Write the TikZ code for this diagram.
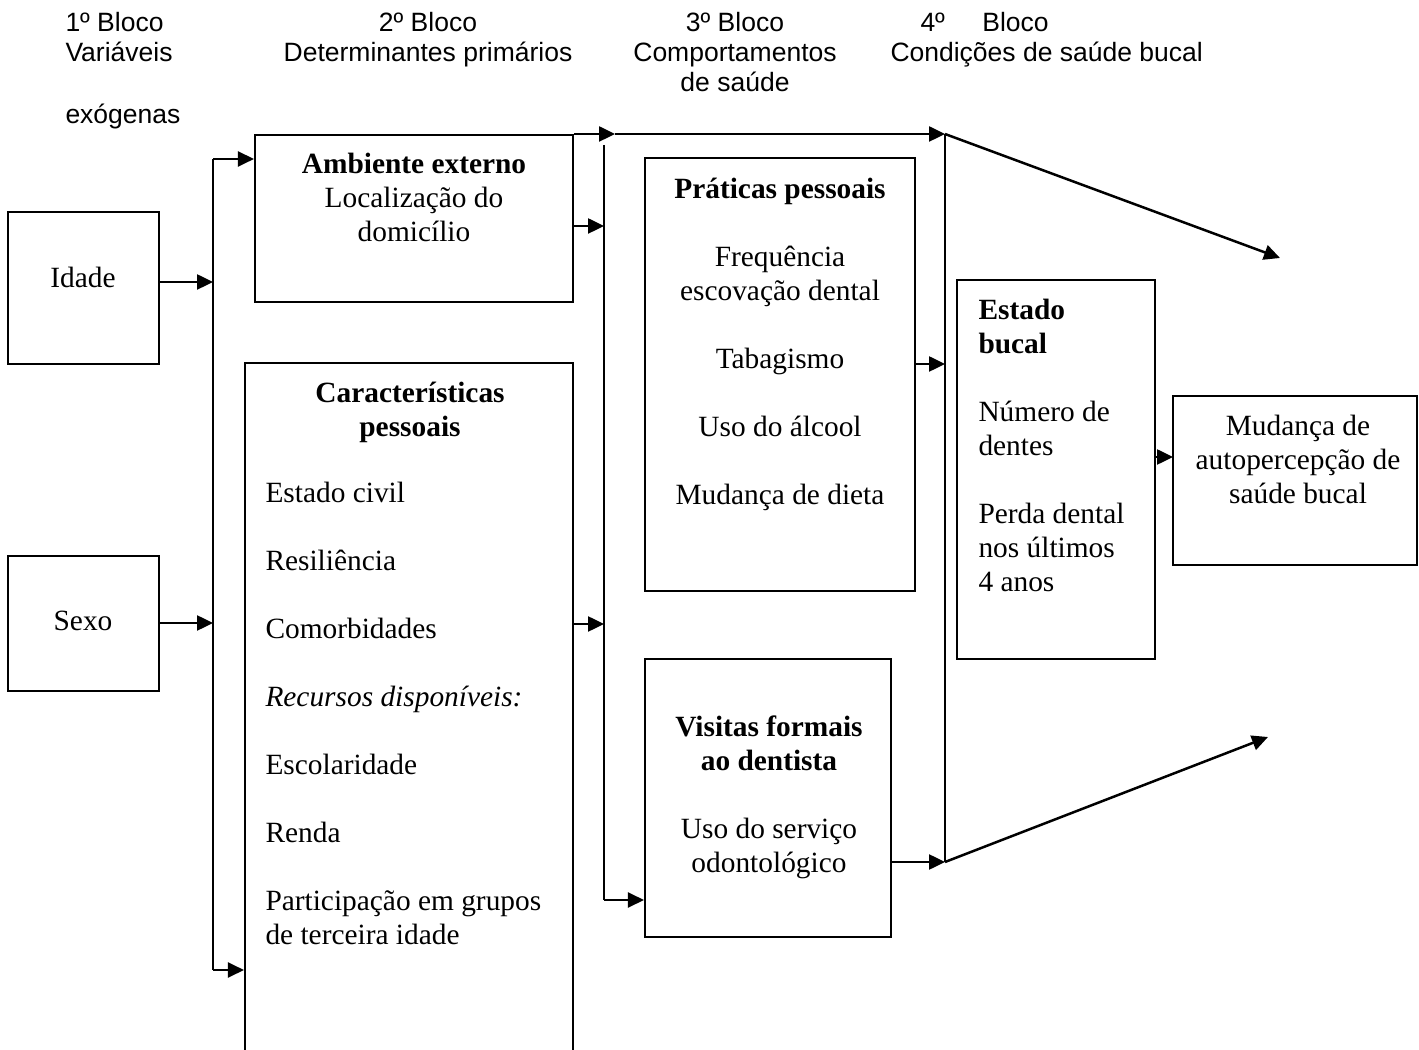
\documentclass[tikz,border=0pt]{standalone}
\usepackage{fontspec}
\setmainfont{Liberation Serif}
\setsansfont{Liberation Sans}
\usetikzlibrary{arrows.meta,fit}

\begin{document}
\begin{tikzpicture}[x=0.4pt, y=-0.4pt,
  box/.style={draw, line width=0.85pt, inner sep=0pt},
  txt/.style={font=\fontsize{11.75}{13.6}\selectfont, inner sep=0pt},
  head/.style={font=\sffamily\fontsize{10.6}{12}\selectfont, inner sep=0pt},
  bus/.style={line width=0.85pt},
  arr/.style={line width=1pt, -{Triangle[length=6.4pt,width=6pt]}}]
\clip (0,0) rectangle (1419,1050);
\node[head, align=left, anchor=north west] (h1) at (65,12)%
{1º Bloco\\Variáveis\\[12.8pt]exógenas};
\node[head, align=center, anchor=north] (h2) at (428,12)%
{2º Bloco\\Determinantes primários};
\node[head, align=center, anchor=north] (h3) at (735,12)%
{3º Bloco\\Comportamentos\\de saúde};
\node[head, align=left, anchor=north west] (h4) at (890,12)%
{\hspace{12pt}4º\hspace{15pt}Bloco\\Condições de saúde bucal};

\node[box, fit={(8,212) (159,364)}] (idade) {};
\node[txt] (tidade) at (83,277) {Idade};
\node[box, fit={(8,556) (159,691)}] (sexo) {};
\node[txt] (tsexo) at (83,621) {Sexo};

\node[box, fit={(255,135) (573,302)}] (amb) {};
\node[txt, align=center, anchor=north] (tamb) at (414,153)%
{\textbf{Ambiente externo}\\Localização do\\domicílio};
\node[box, fit={(245,363) (573,1080)}] (car) {};
\node[txt, align=center, anchor=north] (tcar) at (410,382)%
{\textbf{Características}\\\textbf{pessoais}};
\node[txt, align=left, anchor=north west] (lcar) at (265,482)%
{Estado civil\\[13.6pt]Resiliência\\[13.6pt]Comorbidades\\[13.6pt]%
\textit{Recursos disponíveis:}\\[13.6pt]Escolaridade\\[13.6pt]Renda\\[13.6pt]%
Participação em grupos\\de terceira idade};

\node[box, fit={(645,158) (915,591)}] (prat) {};
\node[txt, align=center, anchor=north] (tprat) at (780,178)%
{\textbf{Práticas pessoais}\\[13.6pt]Frequência\\escovação dental\\[13.6pt]%
Tabagismo\\[13.6pt]Uso do álcool\\[13.6pt]Mudança de dieta};
\node[box, fit={(645,659) (891,937)}] (vis) {};
\node[txt, align=center, anchor=north] (tvis) at (769,715)%
{\textbf{Visitas formais}\\\textbf{ao dentista}\\[13.6pt]Uso do serviço\\odontológico};

\node[box, fit={(957,280) (1155,659)}] (est) {};
\node[txt, align=left, anchor=north west] (test) at (978,299)%
{\textbf{Estado}\\\textbf{bucal}\\[13.6pt]Número de\\dentes\\[13.6pt]%
Perda dental\\nos últimos\\4 anos};
\node[box, fit={(1173,396) (1417,565)}] (mud) {};
\node[txt, align=center, anchor=north] (tmud) at (1298,415)%
{Mudança de\\autopercepção de\\saúde bucal};

\coordinate (b1top) at (213,159);
\coordinate (b1bot) at (213,970);
\coordinate (i1) at (213,282);
\coordinate (s1) at (213,623);
\coordinate (b2top) at (604,145);
\coordinate (b2bot) at (604,900);
\coordinate (a1) at (604,226);
\coordinate (c1) at (604,624);
\coordinate (t1) at (615,134);
\coordinate (b3top) at (945,134);
\coordinate (b3bot) at (945,862);
\coordinate (p1) at (945,364);
\coordinate (m1) at (1173,457);
\coordinate (d1) at (1280,258);
\coordinate (d2) at (1268,737);

\draw[bus] (b1top) -- (b1bot);
\draw[arr] (i1 -| idade.east) -- (i1);
\draw[arr] (s1 -| sexo.east) -- (s1);
\draw[arr] (b1top) -- (b1top -| amb.west);
\draw[arr] (b1bot) -- (b1bot -| car.west);

\draw[bus] (b2top) -- (b2bot);
\draw[arr] (a1 -| amb.east) -- (a1);
\draw[arr] (c1 -| car.east) -- (c1);
\draw[arr] (b2bot) -- (b2bot -| vis.west);
\draw[arr] (t1 -| amb.east) -- (t1);
\draw[arr] (t1) -- (b3top);

\draw[bus] (b3top) -- (b3bot);
\draw[arr] (p1 -| prat.east) -- (p1);
\draw[arr] (b3bot -| vis.east) -- (b3bot);
\draw[arr] (b3top) -- (d1);
\draw[arr] (b3bot) -- (d2);
\draw[arr] (m1 -| est.east) -- (m1);
\end{tikzpicture}
\end{document}
